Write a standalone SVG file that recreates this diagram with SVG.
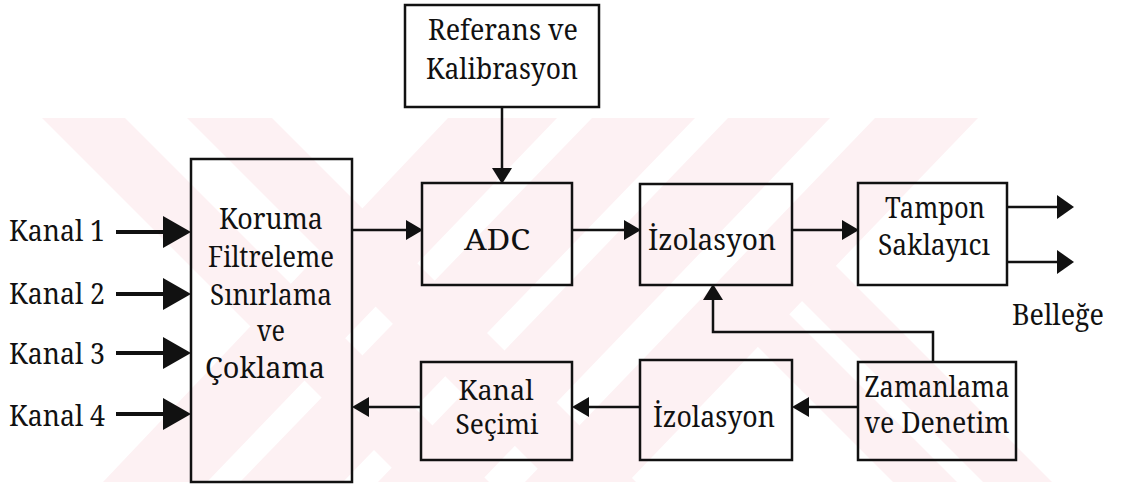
<svg xmlns="http://www.w3.org/2000/svg" width="1121" height="490" viewBox="0 0 1121 490">
  <defs>
    <style>
      .box { fill: none; stroke: #111; stroke-width: 2.5; }
      .wire { fill: none; stroke: #111; stroke-width: 2.5; }
      .bus { fill: none; stroke: #111; stroke-width: 4; }
      .head { fill: #111; }
      text { font-family: "Noto Serif", "Liberation Serif", "DejaVu Serif", serif; font-size: 28.5px; fill: #111; }
      .lbl { text-anchor: middle; }
      .tight { font-size: 27px; }
      .mark { fill: #fdf1f3; }
    </style>
    <clipPath id="markClip">
      <rect x="0" y="118" width="1121" height="364"/>
    </clipPath>
  </defs>

  <rect width="1121" height="490" fill="#ffffff"/>

  <!-- faint striped background emblem -->
  <g id="watermark" clip-path="url(#markClip)">
    <polygon class="mark" points="448,118 557,118 207,482 103,482"/>
    <polygon class="mark" points="592,118 695,118 343,482 240,482"/>
    <polygon class="mark" points="728,118 830,118 480,482 378,482"/>
    <polygon class="mark" points="875,118 978,118 628,482 525,482"/>
    <polygon class="mark" points="42,118 125,118 489,482 406,482"/>
    <polygon class="mark" points="187,118 272,118 636,482 551,482"/>
    <polygon class="mark" points="753,342 785,310 957,482 893,482"/>
    <polygon class="mark" points="798,297 833,263 1052,482 983,482"/>
  </g>

  <!-- connectors -->
  <g id="connectors">
    <!-- channel inputs -->
    <line class="bus" x1="116" y1="232" x2="166" y2="232"/>
    <polygon class="head" points="163,216 191,232 163,248"/>
    <line class="bus" x1="116" y1="294" x2="166" y2="294"/>
    <polygon class="head" points="163,278 191,294 163,310"/>
    <line class="bus" x1="116" y1="353" x2="166" y2="353"/>
    <polygon class="head" points="163,337 191,353 163,369"/>
    <line class="bus" x1="116" y1="414" x2="166" y2="414"/>
    <polygon class="head" points="163,398 191,414 163,430"/>

    <!-- reference to ADC -->
    <line class="wire" x1="502" y1="107" x2="502" y2="170"/>
    <polygon class="head" points="492,168 512,168 502,184"/>

    <!-- mux to ADC -->
    <line class="wire" x1="352" y1="230" x2="408" y2="230"/>
    <polygon class="head" points="406,220 423,230 406,240"/>

    <!-- ADC to isolation -->
    <line class="wire" x1="572" y1="230" x2="626" y2="230"/>
    <polygon class="head" points="624,220 641,230 624,240"/>

    <!-- isolation to buffer -->
    <line class="wire" x1="792" y1="230" x2="844" y2="230"/>
    <polygon class="head" points="842,220 859,230 842,240"/>

    <!-- buffer outputs -->
    <line class="wire" x1="1007" y1="207" x2="1060" y2="207"/>
    <polygon class="head" points="1057,195 1074,207 1057,219"/>
    <line class="wire" x1="1007" y1="262" x2="1060" y2="262"/>
    <polygon class="head" points="1057,250 1074,262 1057,274"/>

    <!-- timing to upper isolation -->
    <polyline class="wire" points="933,362 933,332 713,332 713,298"/>
    <polygon class="head" points="703,300 723,300 713,284"/>

    <!-- timing to lower isolation -->
    <line class="wire" x1="858" y1="407" x2="806" y2="407"/>
    <polygon class="head" points="809,397 792,407 809,417"/>

    <!-- lower isolation to channel select -->
    <line class="wire" x1="640" y1="407" x2="586" y2="407"/>
    <polygon class="head" points="589,397 572,407 589,417"/>

    <!-- channel select to mux -->
    <line class="wire" x1="421" y1="407" x2="366" y2="407"/>
    <polygon class="head" points="369,397 352,407 369,417"/>
  </g>

  <!-- channel labels -->
  <g id="inputs">
    <text x="9" y="241" textLength="96" lengthAdjust="spacingAndGlyphs">Kanal 1</text>
    <text x="9" y="304" textLength="96" lengthAdjust="spacingAndGlyphs">Kanal 2</text>
    <text x="9" y="364" textLength="96" lengthAdjust="spacingAndGlyphs">Kanal 3</text>
    <text x="9" y="426" textLength="96" lengthAdjust="spacingAndGlyphs">Kanal 4</text>
  </g>

  <g id="mux">
    <rect class="box" x="191" y="159" width="161" height="323"/>
    <text class="lbl" x="271" y="229" textLength="104" lengthAdjust="spacingAndGlyphs">Koruma</text>
    <text class="lbl" x="271" y="267" textLength="126" lengthAdjust="spacingAndGlyphs">Filtreleme</text>
    <text class="lbl" x="271" y="305" textLength="122" lengthAdjust="spacingAndGlyphs">Sınırlama</text>
    <text class="lbl" x="271" y="341" textLength="28" lengthAdjust="spacingAndGlyphs">ve</text>
    <text class="lbl" x="265" y="378" textLength="120" lengthAdjust="spacingAndGlyphs">Çoklama</text>
  </g>

  <g id="reference">
    <rect class="box" x="405" y="5" width="194" height="102"/>
    <text class="lbl" x="503" y="40" textLength="150" lengthAdjust="spacingAndGlyphs">Referans ve</text>
    <text class="lbl" x="502" y="79" textLength="152" lengthAdjust="spacingAndGlyphs">Kalibrasyon</text>
  </g>

  <g id="adc">
    <rect class="box" x="422" y="183" width="150" height="102"/>
    <text class="lbl" x="497" y="250" textLength="66" lengthAdjust="spacingAndGlyphs">ADC</text>
  </g>

  <g id="isolation-top">
    <rect class="box" x="640" y="184" width="152" height="101"/>
    <text class="lbl" x="712" y="250" textLength="128" lengthAdjust="spacingAndGlyphs">İzolasyon</text>
  </g>

  <g id="buffer">
    <rect class="box" x="858" y="183" width="149" height="102"/>
    <text class="lbl" x="935" y="218" textLength="100" lengthAdjust="spacingAndGlyphs">Tampon</text>
    <text class="lbl" x="934" y="255" textLength="112" lengthAdjust="spacingAndGlyphs">Saklayıcı</text>
  </g>

  <g id="memory-label">
    <text x="1012" y="325" textLength="92" lengthAdjust="spacingAndGlyphs">Belleğe</text>
  </g>

  <g id="timing">
    <rect class="box" x="858" y="362" width="158" height="98"/>
    <text class="lbl" x="937" y="397" textLength="145" lengthAdjust="spacingAndGlyphs">Zamanlama</text>
    <text class="lbl" x="937" y="433" textLength="145" lengthAdjust="spacingAndGlyphs">ve Denetim</text>
  </g>

  <g id="isolation-bottom">
    <rect class="box" x="640" y="360" width="152" height="100"/>
    <text class="lbl" x="714" y="427" textLength="122" lengthAdjust="spacingAndGlyphs">İzolasyon</text>
  </g>

  <g id="channel-select">
    <rect class="box" x="421" y="362" width="151" height="98"/>
    <text class="lbl tight" x="496" y="400" textLength="75" lengthAdjust="spacingAndGlyphs">Kanal</text>
    <text class="lbl tight" x="497" y="434" textLength="83" lengthAdjust="spacingAndGlyphs">Seçimi</text>
  </g>
</svg>
